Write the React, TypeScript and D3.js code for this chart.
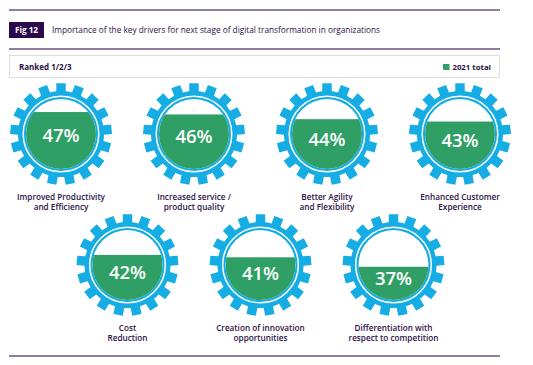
import React, { useEffect, useRef } from 'react';
import * as d3 from 'd3';

const categories = [
  ['Improved Productivity', 'and Efficiency'],
  ['Increased service /', 'product quality'],
  ['Better Agility', 'and Flexibility'],
  ['Enhanced Customer', 'Experience'],
  ['Cost', 'Reduction'],
  ['Creation of innovation', 'opportunities'],
  ['Differentiation with', 'respect to competition'],
];
const values2021 = [47, 46, 44, 43, 42, 41, 37];
const figLabel = 'Fig 12';
const title = 'Importance of the key drivers for next stage of digital transformation in organizations';
const subtitle = 'Ranked 1/2/3';
const seriesName = '2021 total';

const svgWidth = 533;
const svgHeight = 365;

const BLUE = '#16ade4';
const GREEN = '#2f9f66';
const PURPLE = '#2c1046';
const LINE = '#8f7da3';
const FONT = "'Open Sans', 'Noto Sans', sans-serif";

const App: React.FC = () => {
  const svgRef = useRef<SVGSVGElement | null>(null);

  useEffect(() => {
    const svg = d3.select(svgRef.current);
    svg.selectAll('*').remove();

    // header lines
    [10, 49, 356].forEach((y) => {
      svg.append('line')
        .attr('x1', 9).attr('x2', 500)
        .attr('y1', y).attr('y2', y)
        .attr('stroke', LINE).attr('stroke-width', 2);
    });

    svg.append('rect')
      .attr('x', 9).attr('y', 22).attr('width', 35).attr('height', 16)
      .attr('fill', '#2a0a4a');
    svg.append('text')
      .attr('x', 26.5).attr('y', 33)
      .attr('text-anchor', 'middle')
      .attr('fill', '#fff').attr('font-size', 8.2).attr('font-weight', 700)
      .attr('font-family', FONT)
      .text(figLabel);
    svg.append('text')
      .attr('x', 52).attr('y', 33)
      .attr('fill', PURPLE).attr('font-size', 8.2).attr('font-weight', 500)
      .attr('font-family', FONT)
      .attr('textLength', 328).attr('lengthAdjust', 'spacingAndGlyphs')
      .text(title);

    // ranked box
    svg.append('rect')
      .attr('x', 9.5).attr('y', 55.5).attr('width', 490).attr('height', 22)
      .attr('fill', '#fff').attr('stroke', '#dedede');
    svg.append('text')
      .attr('x', 19).attr('y', 70)
      .attr('fill', PURPLE).attr('font-size', 8).attr('font-weight', 700)
      .attr('font-family', FONT)
      .text(subtitle);
    svg.append('path')
      .attr('d', 'M443,64 h6.5 v6 h-5 a1.5,1.5 0 0 1 -1.5,-1.5 z')
      .attr('fill', GREEN);
    svg.append('text')
      .attr('x', 491).attr('y', 70)
      .attr('text-anchor', 'end')
      .attr('fill', PURPLE).attr('font-size', 7.8).attr('font-weight', 700)
      .attr('font-family', FONT)
      .text(seriesName);

    // layout scales
    const xScale = d3.scaleLinear().domain([0, 3]).range([61, 460]);
    const rowY = [134, 265];
    const innerR = 35;
    const fillScale = d3.scaleLinear().domain([23, 52.5]).range([innerR, -innerR]);

    // gear outline
    const teeth = 17;
    const rootR = 43;
    const tipR = 51;
    const pitch = (2 * Math.PI) / teeth;
    const pts: [number, number][] = [];
    d3.range(teeth).forEach((i) => {
      const a = i * pitch;
      const hb = pitch * 0.3;
      const ht = pitch * 0.25;
      pts.push([a - hb, rootR]);
      pts.push([a - ht, tipR]);
      pts.push([a + ht, tipR]);
      pts.push([a + hb, rootR]);
      d3.range(1, 3).forEach((k) => {
        pts.push([a + hb + ((pitch - 2 * hb) * k) / 3, rootR]);
      });
    });
    const gearPath = d3.lineRadial<[number, number]>()
      .angle((d) => d[0])
      .radius((d) => d[1])
      .curve(d3.curveLinearClosed)(pts) as string;

    values2021.forEach((v, i) => {
      const row = i < 4 ? 0 : 1;
      const col = i < 4 ? i : i - 4 + 0.5;
      const cx = xScale(col);
      const cy = rowY[row];
      const g = svg.append('g').attr('transform', `translate(${cx},${cy})`);

      g.append('path').attr('d', gearPath).attr('fill', BLUE);
      g.append('circle').attr('r', 37.8).attr('fill', 'none')
        .attr('stroke', '#fff').attr('stroke-width', 1.5);
      g.append('circle').attr('r', innerR).attr('fill', '#fff');

      const clipId = `clip-${i}`;
      g.append('clipPath').attr('id', clipId)
        .append('circle').attr('r', innerR);
      const level = fillScale(v);
      g.append('rect')
        .attr('x', -innerR).attr('y', level)
        .attr('width', innerR * 2).attr('height', innerR - level)
        .attr('fill', GREEN)
        .attr('clip-path', `url(#${clipId})`);

      // value text sits in the middle of the green part
      const textMid = (level + innerR) / 2 - 5;
      g.append('text')
        .attr('y', textMid + 6.5)
        .attr('text-anchor', 'middle')
        .attr('fill', '#fff').attr('font-size', 18.5).attr('font-weight', 600)
        .attr('font-family', FONT)
        .text(`${v}%`);

      const label = g.append('text')
        .attr('text-anchor', 'middle')
        .attr('fill', PURPLE).attr('font-size', 8.2).attr('font-weight', 600)
        .attr('font-family', FONT);
      categories[i].forEach((line, k) => {
        label.append('tspan').attr('x', 0).attr('y', 66 + k * 10).text(line);
      });
    });
  }, []);

  return (
    <svg
      ref={svgRef}
      width={svgWidth}
      height={svgHeight}
      style={{ position: 'absolute', left: 0, top: 0, background: '#fff' }}
    />
  );
};

export default App;
